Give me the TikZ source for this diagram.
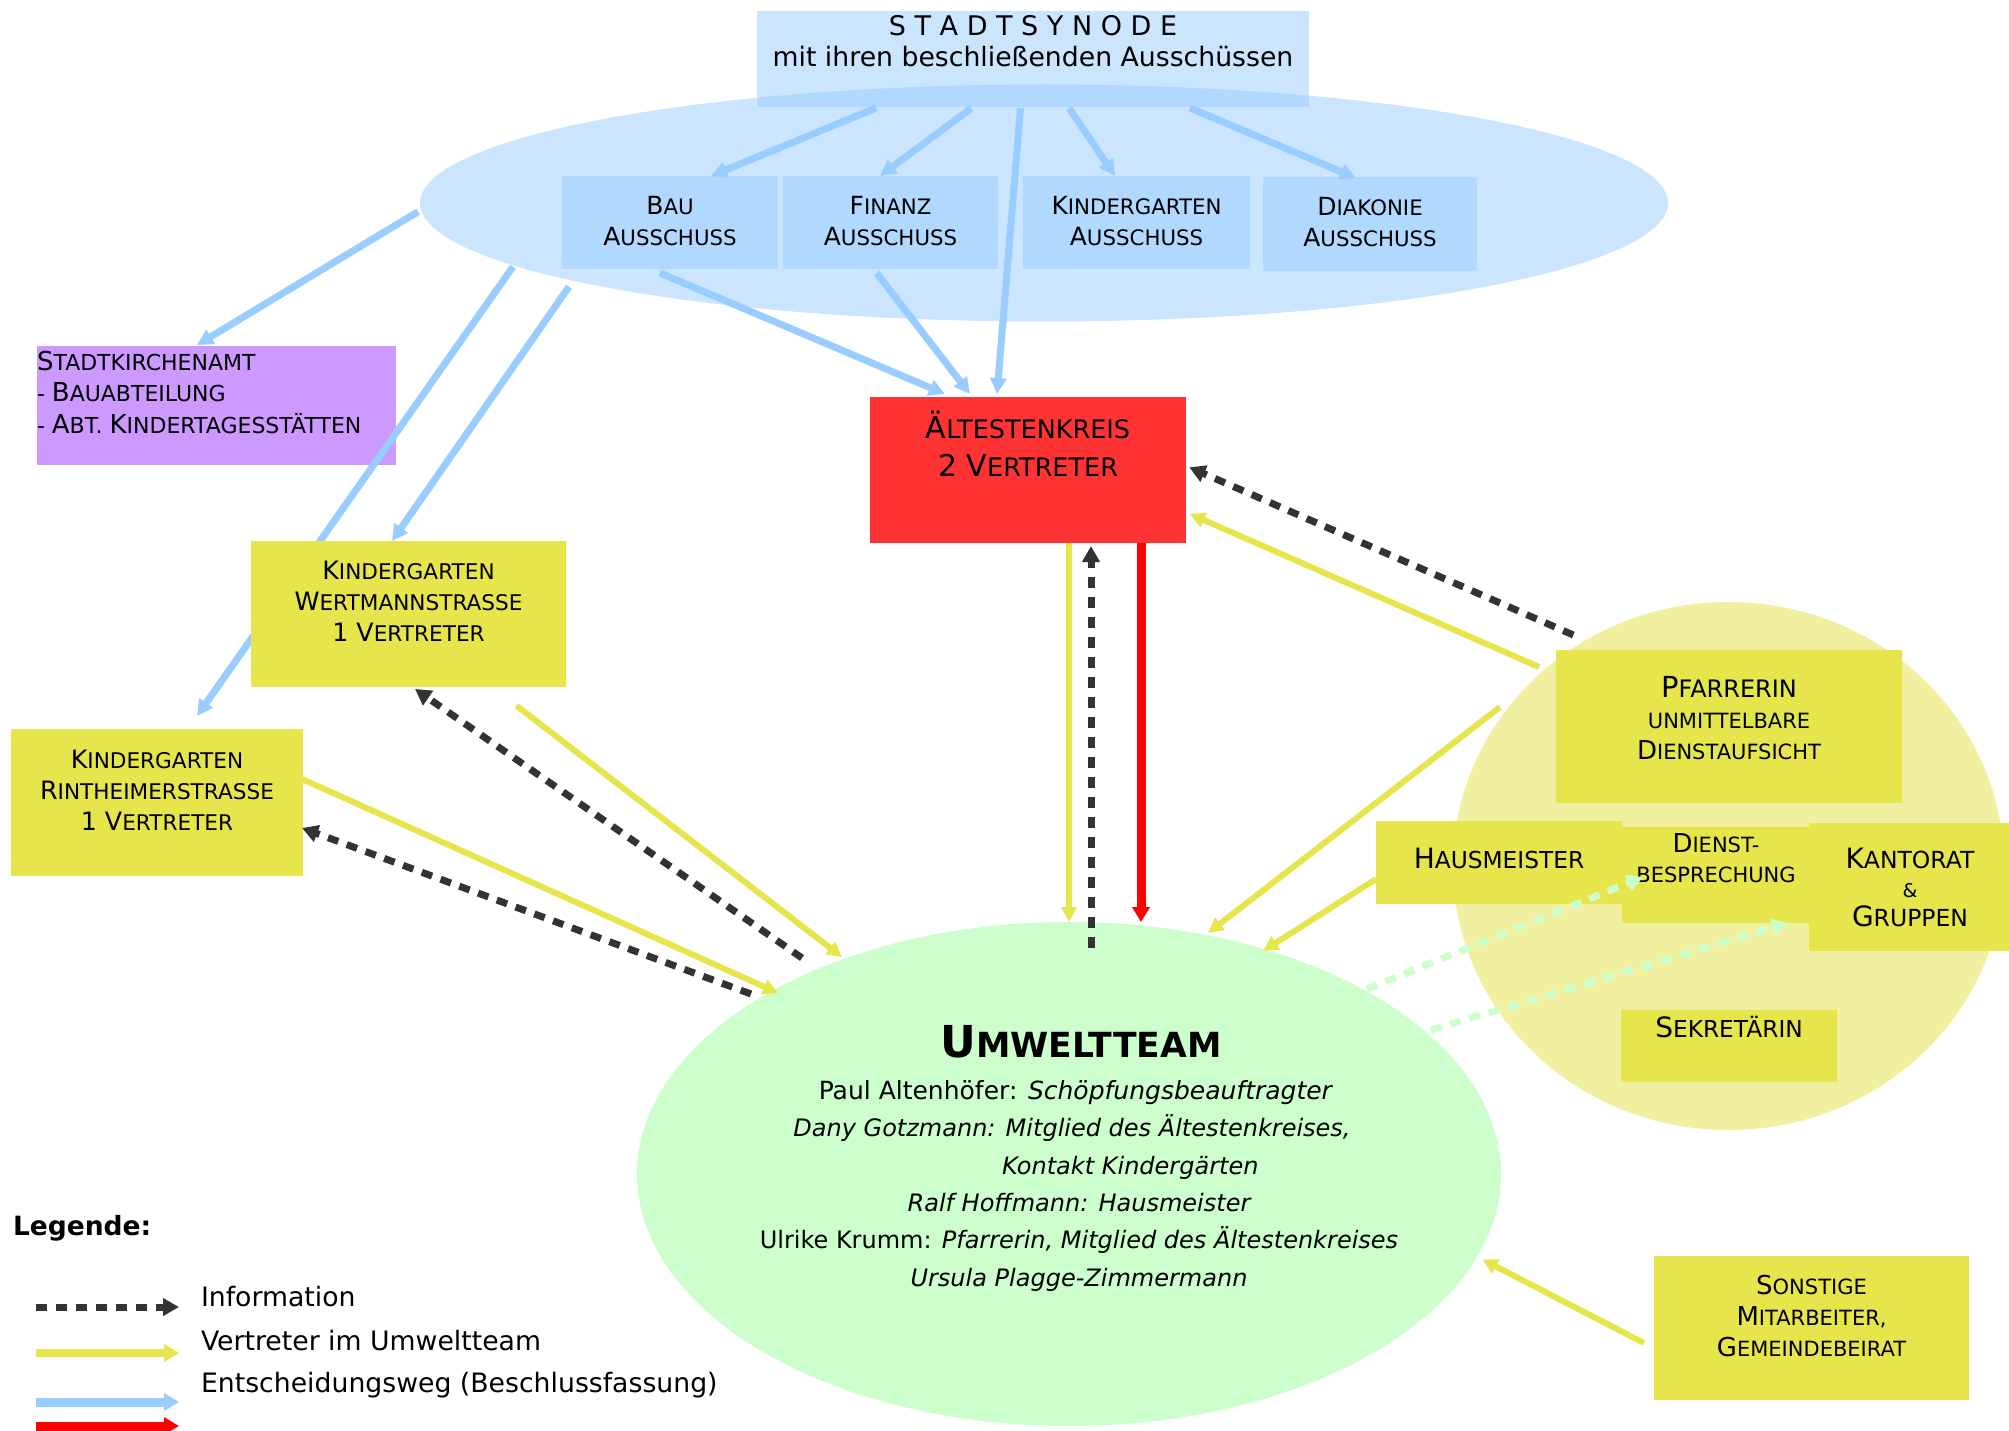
\documentclass[tikz,border=0pt]{standalone}
\usepackage{fontspec}
\setmainfont{DejaVu Sans}
\usetikzlibrary{shapes.geometric,arrows.meta,calc}
\pgfdeclarelayer{bg}
\pgfsetlayers{bg,main}
\definecolor{synblue}{HTML}{99CCFF}
\definecolor{ylw}{HTML}{E6E64C}
\definecolor{ylwlight}{HTML}{F0F0A0}
\definecolor{grn}{HTML}{CCFFCC}
\definecolor{purp}{HTML}{CC99FF}
\definecolor{aekred}{HTML}{FF3333}
\definecolor{dark}{HTML}{333333}
\newcommand\scf[3]{\def\bigsz{#1}\fontsize{#2}{#3}\selectfont}
\newcommand\U[1]{{\fontsize{\bigsz}{\bigsz}\selectfont #1}}
\begin{document}
\begin{tikzpicture}[x=1pt,y=-1pt,
  box/.style={rectangle,inner sep=0pt,outer sep=0pt,draw=none},
  tx/.style={inner sep=0pt,outer sep=0pt,align=center},
  lbl/.style={inner sep=0pt,outer sep=0pt,anchor=base},
  blu/.style={draw=synblue,line width=7pt,-{Triangle[length=16pt,width=16pt]}},
  ylwarrow/.style={draw=ylw,line width=6pt,-{Triangle[length=15pt,width=15pt]}},
  redarrow/.style={draw=red,line width=9pt,-{Triangle[length=15pt,width=17pt]}},
  info/.style={draw=dark,line width=7pt,dash pattern=on 11pt off 9pt,-{Triangle[length=16pt,width=17pt]}},
  ginfo/.style={draw=grn,line width=7pt,dash pattern=on 11pt off 9pt,-{Triangle[length=16pt,width=17pt]}}]
\begin{pgfonlayer}{bg}
\fill[white] (0,0) rectangle (2009,1431);
\end{pgfonlayer}
\useasboundingbox (0,0) rectangle (2009,1431);
% background layer: ellipses, synod boxes, Stadtkirchenamt
\begin{pgfonlayer}{bg}
\node[ellipse,inner sep=0pt,outer sep=0pt,fill=synblue,fill opacity=0.5,minimum width=1248pt,minimum height=237pt] (bigE) at (1044,203) {};
\node[ellipse,inner sep=0pt,outer sep=0pt,fill=ylwlight,minimum width=551pt,minimum height=528pt] (yelE) at (1728.5,866) {};
\node[ellipse,inner sep=0pt,outer sep=0pt,fill=grn,minimum width=864pt,minimum height=504pt] (umw) at (1069,1174) {};
\node[box,fill=synblue,fill opacity=0.5,minimum width=552pt,minimum height=96pt] (syn) at (1033,59) {};
\node[box,fill=synblue,fill opacity=0.5,minimum width=216pt,minimum height=93pt] (bau) at (670,222.5) {};
\node[box,fill=synblue,fill opacity=0.5,minimum width=215pt,minimum height=93pt] (fin) at (890.5,222.5) {};
\node[box,fill=synblue,fill opacity=0.5,minimum width=227pt,minimum height=93pt] (kga) at (1136.5,222.5) {};
\node[box,fill=synblue,fill opacity=0.5,minimum width=214pt,minimum height=94pt] (dia) at (1370,224) {};
\node[box,fill=purp,minimum width=359pt,minimum height=119pt] (ska) at (216.5,405.5) {};
\end{pgfonlayer}
% main boxes
\node[box,fill=aekred,minimum width=316pt,minimum height=146pt] (aek) at (1028,470) {};
\node[box,fill=ylw,minimum width=315pt,minimum height=146pt] (wer) at (408.5,614) {};
\node[box,fill=ylw,minimum width=292pt,minimum height=147pt] (rin) at (157,802.5) {};
\node[box,fill=ylw,minimum width=346pt,minimum height=153pt] (pfa) at (1729,726.5) {};
\node[box,fill=ylw,minimum width=246pt,minimum height=83pt] (hau) at (1499,862.5) {};
\node[box,fill=ylw,minimum width=187pt,minimum height=96pt] (die) at (1715.5,875) {};
\node[box,fill=ylw,minimum width=200pt,minimum height=128pt] (kan) at (1909,887) {};
\node[box,fill=ylw,minimum width=216pt,minimum height=72pt] (sek) at (1729,1046) {};
\node[box,fill=ylw,minimum width=315pt,minimum height=144pt] (son) at (1811.5,1328) {};
% blue arrows (below the boxes)
\begin{pgfonlayer}{bg}
\draw[blu] ($(syn.south)+(-157,1)$) -- ($(bau.north)+(41,0)$);
\draw[blu] ($(syn.south)+(-61.5,1)$) -- ($(fin.north)+(-10.5,0)$);
\draw[blu] ($(syn.south)+(-12.5,1)$) -- ($(aek.north)+(-31,-3)$);
\draw[blu] ($(syn.south)+(36,1)$) -- ($(kga.north)+(-21.5,0)$);
\draw[blu] ($(syn.south)+(157,1)$) -- ($(dia.north)+(-14,1)$);
\draw[blu] ($(bigE.center)+(-626,8.7)$) -- ($(ska.north)+(-19.5,-1)$);
\draw[blu] ($(bigE.center)+(-531,63.7)$) -- ($(rin.north)+(40,-13)$);
\draw[blu] ($(bigE.center)+(-475,83.7)$) -- ($(wer.north)+(-16.5,0)$);
\draw[blu] ($(bau.south)+(-10,4)$) -- ($(aek.north)+(-83,-3)$);
\draw[blu] ($(fin.south)+(-14,4)$) -- ($(aek.north)+(-58,-3)$);
\end{pgfonlayer}
% texts
\node[lbl,font=\fontsize{27}{30}\selectfont] (synT1) at (1033,35.7) {S T A D T S Y N O D E};
\node[lbl,font=\fontsize{26.7}{30}\selectfont] (synT2) at (1033,66.7) {mit ihren beschließenden Ausschüssen};
\node[tx,font={\scf{25}{21.3}{31}}] (bauT) at (670,221) {\U{B}AU\\\U{A}USSCHUSS};
\node[tx,font={\scf{25}{21.3}{31}}] (finT) at (890.5,221) {\U{F}INANZ\\\U{A}USSCHUSS};
\node[tx,font={\scf{25}{21.3}{31}}] (kgaT) at (1136.5,221) {\U{K}INDERGARTEN\\\U{A}USSCHUSS};
\node[tx,font={\scf{25}{21.3}{31}}] (diaT) at (1370,222) {\U{D}IAKONIE\\\U{A}USSCHUSS};
\node[tx,align=left,anchor=west,font={\scf{26}{22}{31.5}}] (skaT) at (37,392.4) {\U{S}TADTKIRCHENAMT\\- \U{B}AUABTEILUNG\\- \U{A}BT. \U{K}INDERTAGESSTÄTTEN};
\node[tx,font={\scf{30}{25.5}{38.5}}] (aekT) at (1028,444) {\U{Ä}LTESTENKREIS\\\U{2 V}ERTRETER};
\node[tx,font={\scf{25.3}{21.6}{31.2}}] (werT) at (408.5,601) {\U{K}INDERGARTEN\\\U{W}ERTMANNSTRASSE\\\U{1 V}ERTRETER};
\node[tx,font={\scf{25.3}{21.6}{31.2}}] (rinT) at (157,790) {\U{K}INDERGARTEN\\\U{R}INTHEIMERSTRASSE\\\U{1 V}ERTRETER};
\node[tx,font={\scf{26}{21}{31}}] (pfaT) at (1729,718) {{\fontsize{24}{31}\selectfont{\fontsize{29}{31}\selectfont P}FARRERIN}\\UNMITTELBARE\\\U{D}IENSTAUFSICHT};
\node[tx,font={\scf{28}{23.3}{30}}] (hauT) at (1499,858) {\U{H}AUSMEISTER};
\node[tx,font={\scf{26}{21}{30}}] (dieT) at (1716,858) {\U{D}IENST-\\BESPRECHUNG};
\node[tx,font={\scf{28}{23.5}{29}}] (kanT) at (1910,887) {\U{K}ANTORAT\\{\fontsize{19}{29}\selectfont\&}\\\U{G}RUPPEN};
\node[tx,font={\scf{28}{23.3}{30}}] (sekT) at (1729,1027) {\U{S}EKRETÄRIN};
\node[tx,font={\scf{26}{21}{31.3}}] (sonT) at (1811.5,1316) {\U{S}ONSTIGE\\\U{M}ITARBEITER,\\\U{G}EMEINDEBEIRAT};
\node[lbl,font=\bfseries] (umwT) at (1081,1057) {\fontsize{44}{44}\selectfont U\fontsize{34.6}{34.6}\selectfont MWELTTEAM};
\node[lbl,font=\fontsize{25}{30}\selectfont] (umw1) at (1076,1099) {Paul Altenhöfer: \textit{Schöpfungsbeauftragter}};
\node[lbl,font=\fontsize{24}{30}\selectfont\itshape] (umw2) at (1072,1136.7) {Dany Gotzmann: Mitglied des Ältestenkreises,};
\node[lbl,anchor=base west,font=\fontsize{24}{30}\selectfont\itshape] (umw3) at (1002,1174.3) {Kontakt Kindergärten};
\node[lbl,font=\fontsize{24}{30}\selectfont\itshape] (umw4) at (1079,1211) {Ralf Hoffmann: Hausmeister};
\node[lbl,font=\fontsize{24}{30}\selectfont] (umw5) at (1079,1248.3) {Ulrike Krumm: \textit{Pfarrerin, Mitglied des Ältestenkreises}};
\node[lbl,font=\fontsize{24}{30}\selectfont\itshape] (umw6) at (1079,1286) {Ursula Plagge-Zimmermann};
% yellow, red, dark arrows
\draw[ylwarrow] (umw.north |- aek.south) -- (umw.north);
\draw[redarrow] ($(aek.south)+(113,0)$) -- ($(umw.north)+(72,0)$);
\draw[info] ($(umw.north)+(22,26)$) -- ($(aek.south)+(63,3)$);
\draw[ylwarrow] ($(pfa.west)+(-17,-59.5)$) -- ($(aek.east)+(4,44)$);
\draw[info] ($(pfa.north west)+(17.3,-15)$) -- ($(aek.east)+(3.3,-2.7)$);
\draw[ylwarrow] ($(pfa.west)+(-56,-19.5)$) -- ($(umw.center)+(139,-241)$);
\draw[ylwarrow] ($(hau.west)+(0,16.5)$) -- ($(umw.center)+(194,-223)$);
\draw[ylwarrow] ($(wer.south)+(108,18.7)$) -- ($(umw.center)+(-227,-217)$);
\draw[ylwarrow] ($(rin.east)+(-1,-23.5)$) -- ($(umw.center)+(-291,-181)$);
\draw[ylwarrow] ($(son.west)+(-10,15)$) -- ($(umw.center)+(413.5,85.5)$);
\draw[info] ($(umw.center)+(-267,-216)$) -- ($(wer.south)+(6.5,2)$);
\draw[info] ($(umw.center)+(-318,-180)$) -- ($(rin.east)+(-1,25.5)$);
\draw[ginfo] ($(umw.center)+(298,-185)$) -- ($(die.west)+(21,2)$);
\draw[ginfo] ($(umw.center)+(362,-144)$) -- ($(die.south east)+(-21,0)$);
% legend
\node[lbl,anchor=base west,font=\fontsize{26.5}{30}\selectfont\bfseries] (legT) at (13,1235) {Legende:};
\coordinate (la1) at (36,1307); \coordinate (lb1) at (179,1307);
\coordinate (la2) at (36,1353); \coordinate (lb2) at (179,1353);
\coordinate (la3) at (36,1402); \coordinate (lb3) at (179,1402);
\coordinate (la4) at (36,1426); \coordinate (lb4) at (179,1426);
\draw[info] (la1) -- (lb1);
\draw[ylwarrow,line width=8pt,-{Triangle[length=15pt,width=17pt]}] (la2) -- (lb2);
\draw[blu,line width=9pt,-{Triangle[length=15pt,width=17pt]}] (la3) -- (lb3);
\draw[redarrow] (la4) -- (lb4);
\node[lbl,anchor=base west,font=\fontsize{26.7}{30}\selectfont] (leg1) at (201,1306.7) {Information};
\node[lbl,anchor=base west,font=\fontsize{26.7}{30}\selectfont] (leg2) at (201,1350) {Vertreter im Umweltteam};
\node[lbl,anchor=base west,font=\fontsize{26.7}{30}\selectfont] (leg3) at (201,1392) {Entscheidungsweg (Beschlussfassung)};
\end{tikzpicture}
\end{document}
